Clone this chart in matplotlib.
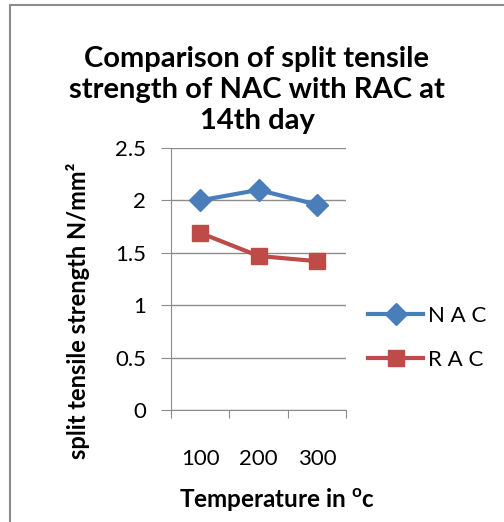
import matplotlib
matplotlib.use("Agg")
from matplotlib import pyplot as plt
from matplotlib.patches import Rectangle

temperatures = ["100", "200", "300"]
nac_values = [2.0, 2.1, 1.96]
rac_values = [1.69, 1.47, 1.42]
y_ticks = [0, 0.5, 1, 1.5, 2, 2.5]
y_tick_labels = ["0", "0.5", "1", "1.5", "2", "2.5"]

plt.rcParams["font.family"] = ["Lato", "DejaVu Sans"]

fig = plt.figure(figsize=(5.04, 5.22), dpi=100)
fig.patches.append(Rectangle((10 / 504, -0.05), 1.2, 1 - 5 / 522 + 0.05,
                             transform=fig.transFigure, fill=False,
                             edgecolor="#8c8c8c", linewidth=1.5))

ax = fig.add_axes([171 / 504, 1 - 410 / 522, 175 / 504, 262 / 522])
x = list(range(1, len(temperatures) + 1))
ax.plot(x, nac_values, color="#4a7ebb", linewidth=3, marker="D",
        markersize=11, label="N A C")
ax.plot(x, rac_values, color="#be4b48", linewidth=3, marker="s",
        markersize=12, label="R A C")

ax.set_xlim(0.5, len(temperatures) + 0.5)
ax.set_ylim(0, 2.5)
ax.set_yticks(y_ticks)
ax.set_yticklabels(y_tick_labels, fontsize=16)
ax.yaxis.grid(True, color="#8c8c8c", linewidth=1)
ax.set_axisbelow(True)

ax.set_xticks([i + 0.5 for i in range(len(temperatures) + 1)])
ax.set_xticklabels([])
ax.set_xticks(x, minor=True)
ax.set_xticklabels(temperatures, minor=True, fontsize=16)
ax.tick_params(axis="x", which="minor", length=0, pad=28)
ax.tick_params(axis="x", which="major", length=6, color="#8c8c8c")
ax.tick_params(axis="y", length=7, color="#8c8c8c", pad=11)

for side in ["top", "right"]:
    ax.spines[side].set_visible(False)
ax.spines["left"].set_color("#8c8c8c")
ax.spines["bottom"].set_color("#8c8c8c")

ax.set_ylabel("split tensile strength N/mm²", fontsize=17, fontweight="bold")
ax.yaxis.set_label_coords(-0.46, 0.38)
ax.set_xlabel("Temperature in $\\mathregular{^o}$c", fontsize=17.5,
              fontweight="bold")
ax.xaxis.set_label_coords(0.606, -0.29)
fig.text(257 / 504, 1 - 90 / 522,
         "Comparison of split tensile\nstrength of NAC with RAC at\n14th day",
         ha="center", va="center", fontsize=21, fontweight="bold",
         linespacing=1.22)

ax.legend(loc="center left", bbox_to_anchor=(1.01, 0.275), frameon=False,
          fontsize=16, handlelength=2.5, handletextpad=0.2, labelspacing=1.1)

fig.savefig("out.png", dpi=100)
